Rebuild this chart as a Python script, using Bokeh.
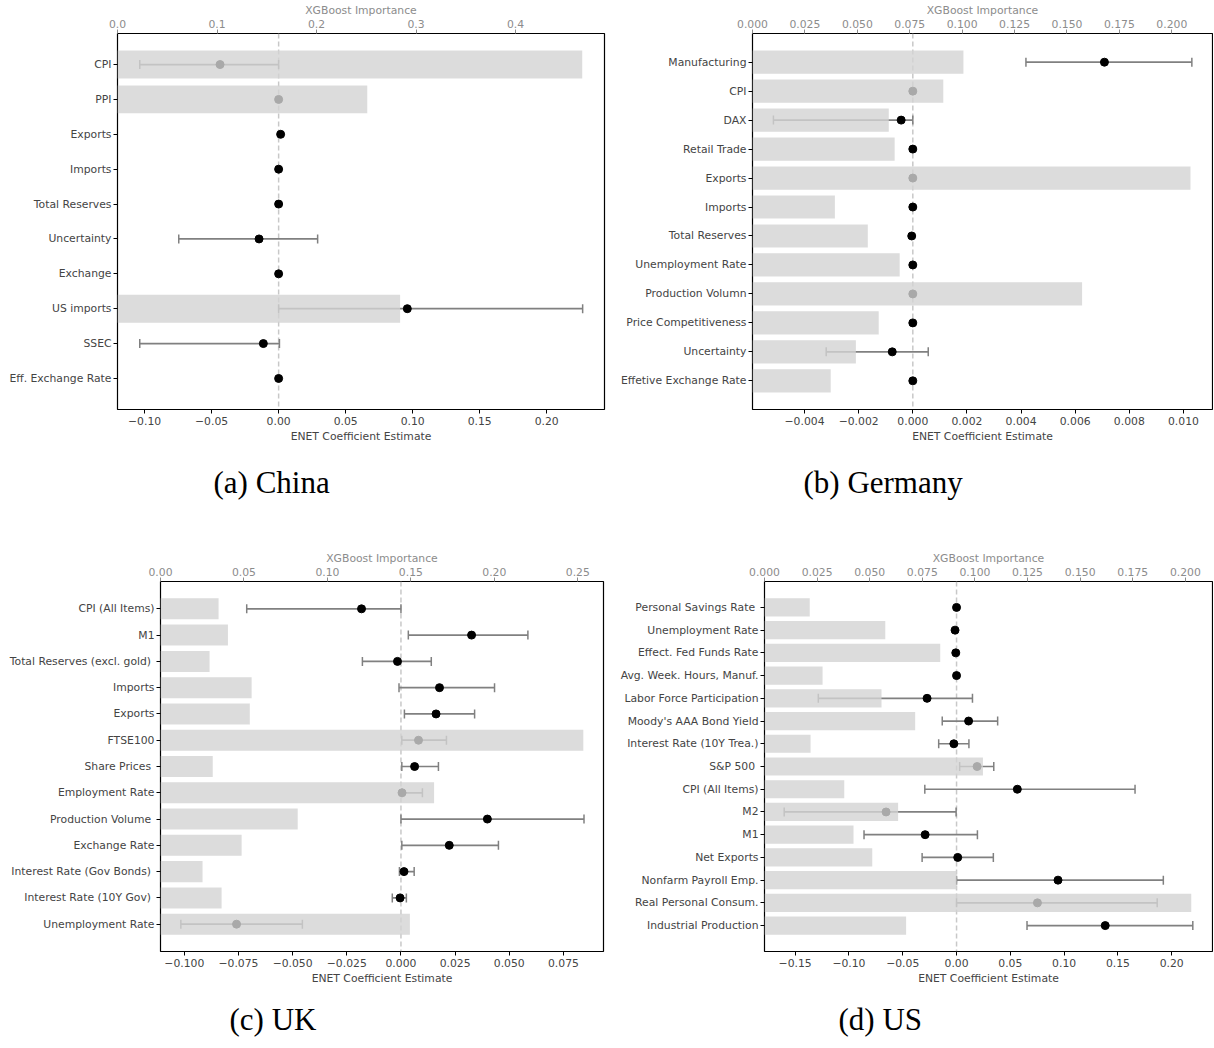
from math import pi
from bokeh.plotting import figure
from bokeh.models import (Range1d, LinearAxis, FixedTicker, CustomJSTickFormatter,
                          FactorRange, ColumnDataSource, Span, Title)
from bokeh.layouts import column, row
from bokeh.embed import file_html
from bokeh.resources import INLINE

# ---------------- data ----------------
china_cats = ["CPI", "PPI", "Exports", "Imports", "Total Reserves", "Uncertainty",
              "Exchange", "US imports", "SSEC", "Eff. Exchange Rate"]
china_xgb = [0.467, 0.251, 0.0, 0.0, 0.0, 0.0, 0.0, 0.284, 0.0, 0.0]
china_coef = [-0.0437, 0.0, 0.0015, 0.0, 0.0, -0.0146, 0.0, 0.096, -0.0114, 0.0]
china_lo = [-0.1036, None, None, None, None, -0.0745, None, 0.0, -0.1036, None]
china_hi = [0.0, None, None, None, None, 0.0291, None, 0.2268, 0.0006, None]
china_bticks = [-0.10, -0.05, 0.0, 0.05, 0.10, 0.15, 0.20]
china_tticks = [0.0, 0.1, 0.2, 0.3, 0.4]

germany_cats = ["Manufacturing", "CPI", "DAX", "Retail Trade", "Exports", "Imports",
                "Total Reserves", "Unemployment Rate", "Production Volumn",
                "Price Competitiveness", "Uncertainty", "Effetive Exchange Rate"]
germany_xgb = [0.1006, 0.0910, 0.0650, 0.0678, 0.2089, 0.0393, 0.0550, 0.0702,
               0.1572, 0.0602, 0.0493, 0.0373]
germany_coef = [0.00708, 0.0, -0.00043, 0.0, 0.0, 0.0, -0.00004, 0.0, 0.0, 0.0,
                -0.00076, 0.0]
germany_lo = [0.00418, None, -0.00515, None, None, None, None, None, None, None,
              -0.0032, None]
germany_hi = [0.01031, None, 0.0, None, None, None, None, None, None, None,
              0.00057, None]
germany_bticks = [-0.004, -0.002, 0.0, 0.002, 0.004, 0.006, 0.008, 0.010]
germany_tticks = [0.0, 0.025, 0.05, 0.075, 0.1, 0.125, 0.15, 0.175, 0.2]

uk_cats = ["CPI (All Items)", "M1", "Total Reserves (excl. gold) ", "Imports", "Exports",
           "FTSE100", "Share Prices ", "Employment Rate", "Production Volume ",
           "Exchange Rate", "Interest Rate (Gov Bonds) ", "Interest Rate (10Y Gov) ",
           "Unemployment Rate"]
uk_xgb = [0.0348, 0.0404, 0.0294, 0.0546, 0.0535, 0.2533, 0.0313, 0.1639, 0.0822,
          0.0486, 0.0252, 0.0366, 0.1494]
uk_coef = [-0.0182, 0.0326, -0.0016, 0.0178, 0.0162, 0.0081, 0.0063, 0.0005, 0.0399,
           0.0223, 0.0014, -0.0004, -0.0759]
uk_lo = [-0.0712, 0.0034, -0.0178, -0.0009, 0.0016, 0.0004, 0.0004, 0.0005, 0.0,
         0.0004, -0.0007, -0.0040, -0.1016]
uk_hi = [0.0, 0.0586, 0.0140, 0.0432, 0.0340, 0.0210, 0.0173, 0.0099, 0.0845,
         0.0450, 0.0061, 0.0025, -0.0455]
uk_bticks = [-0.100, -0.075, -0.050, -0.025, 0.0, 0.025, 0.050, 0.075]
uk_tticks = [0.0, 0.05, 0.10, 0.15, 0.20, 0.25]

us_cats = ["Personal Savings Rate ", "Unemployment Rate", "Effect. Fed Funds Rate",
           "Avg. Week. Hours, Manuf.", "Labor Force Participation",
           "Moody's AAA Bond Yield", "Interest Rate (10Y Trea.)", "S&P 500 ",
           "CPI (All Items)", "M2", "M1", "Net Exports", "Nonfarm Payroll Emp.",
           "Real Personal Consum.", "Industrial Production"]
us_xgb = [0.0215, 0.0574, 0.0835, 0.0276, 0.0556, 0.0716, 0.0219, 0.1038, 0.0379,
          0.0635, 0.0423, 0.0512, 0.0913, 0.2028, 0.0673]
us_coef = [0.0, -0.0014, -0.0007, 0.0, -0.0274, 0.0112, -0.0025, 0.0191, 0.0565,
           -0.0655, -0.0292, 0.0011, 0.0943, 0.0752, 0.1382]
us_lo = [None, None, None, None, -0.1285, -0.0133, -0.0166, 0.0029, -0.0295,
         -0.1602, -0.086, -0.032, 0.0, 0.0, 0.0655]
us_hi = [None, None, None, None, 0.0148, 0.0382, 0.0115, 0.0346, 0.1659,
         -0.0004, 0.0194, 0.0342, 0.1922, 0.1865, 0.2196]
us_bticks = [-0.15, -0.10, -0.05, 0.0, 0.05, 0.10, 0.15, 0.20]
us_tticks = [0.0, 0.025, 0.05, 0.075, 0.1, 0.125, 0.15, 0.175, 0.2]

FONT = "DejaVu Sans"
TSIZE = "10.8px"


def fmt(dec):
    return CustomJSTickFormatter(
        code="return (tick < -1e-12 ? '\u2212' : '') + Math.abs(tick).toFixed(%d);" % dec)


def panel(cats, xgb, coef, lo, hi, xr, tr, bticks, tticks, bdec, tdec,
          caption, cap_off, cap_standoff, width, height, mbl, mbr, mbt, mbb):
    n = len(cats)
    yr = FactorRange(factors=cats[::-1], range_padding=0.05 * n - 0.11,
                     range_padding_units="absolute")
    p = figure(width=width, height=height, x_range=Range1d(*xr), y_range=yr,
               output_backend="svg", toolbar_location=None,
               min_border_left=mbl, min_border_right=mbr,
               min_border_top=mbt, min_border_bottom=mbb,
               x_axis_location="below")
    p.extra_x_ranges = {"xgb": Range1d(*tr)}
    p.grid.visible = False
    p.outline_line_color = "black"
    p.outline_line_width = 1.2
    p.background_fill_color = "white"
    p.border_fill_color = "white"

    # bottom axis (ENET)
    xa = p.xaxis[0]
    xa.ticker = FixedTicker(ticks=bticks)
    xa.formatter = fmt(bdec)
    xa.axis_label = "ENET Coefficient Estimate"
    xa.axis_label_text_font = FONT
    xa.axis_label_text_font_size = TSIZE
    xa.axis_label_text_font_style = "normal"
    xa.axis_label_standoff = 2
    xa.major_label_text_font = FONT
    xa.major_label_text_font_size = TSIZE
    xa.major_label_standoff = 3
    xa.major_tick_in = 0
    xa.major_tick_out = 4
    xa.minor_tick_out = 0
    xa.minor_tick_in = 0
    xa.axis_line_color = None

    # top axis (XGBoost)
    ta = LinearAxis(x_range_name="xgb", ticker=FixedTicker(ticks=tticks),
                    formatter=fmt(tdec), axis_label="XGBoost Importance")
    ta.axis_label_text_font = FONT
    ta.axis_label_text_font_size = TSIZE
    ta.axis_label_text_font_style = "normal"
    ta.axis_label_text_color = "#8c8c8c"
    ta.axis_label_standoff = 0
    ta.major_label_text_font = FONT
    ta.major_label_text_font_size = TSIZE
    ta.major_label_text_color = "#8c8c8c"
    ta.major_label_standoff = 2
    ta.major_tick_line_color = "#8c8c8c"
    ta.major_tick_in = 0
    ta.major_tick_out = 4
    ta.minor_tick_out = 0
    ta.minor_tick_in = 0
    ta.axis_line_color = None
    p.add_layout(ta, "above")

    ya = p.yaxis[0]
    ya.major_label_text_font = FONT
    ya.major_label_text_font_size = TSIZE
    ya.major_label_standoff = 2
    ya.major_tick_in = 0
    ya.major_tick_out = 4
    ya.axis_line_color = None

    p.add_layout(Span(location=0, dimension="height", line_color="#c8c8c8",
                      line_width=1.5, line_dash="5 3", level="underlay"))

    # error bars
    ecats = [c for c, a in zip(cats, lo) if a is not None]
    elo = [a for a in lo if a is not None]
    ehi = [b for b in hi if b is not None]
    esrc = ColumnDataSource(dict(y=ecats, lo=elo, hi=ehi))
    p.segment(x0="lo", x1="hi", y0="y", y1="y", source=esrc,
              line_color="#808080", line_width=1.7)
    p.scatter(x="lo", y="y", source=esrc, marker="dash", angle=pi / 2, size=9,
              line_color="#808080", line_width=1.5)
    p.scatter(x="hi", y="y", source=esrc, marker="dash", angle=pi / 2, size=9,
              line_color="#808080", line_width=1.5)

    # coefficient points
    psrc = ColumnDataSource(dict(y=cats, x=coef))
    p.scatter(x="x", y="y", source=psrc, size=8, fill_color="black",
              line_color="black")

    # xgboost importance bars (drawn on top, semi-transparent)
    bsrc = ColumnDataSource(dict(y=cats, right=xgb))
    p.hbar(y="y", left=0, right="right", height=0.8, source=bsrc,
           x_range_name="xgb", fill_color="#d3d3d3", fill_alpha=0.8,
           line_color=None)

    p.add_layout(Title(text=caption, align="left", offset=cap_off,
                       text_font="Liberation Serif", text_font_size="31px",
                       text_font_style="normal", text_color="black",
                       standoff=cap_standoff), "below")
    return p


pa = panel(china_cats, china_xgb, china_coef, china_lo, china_hi,
           (-0.1202, 0.2431), (0.0, 0.4894), china_bticks, china_tticks, 2, 1,
           "(a) China", 96, 34, 610, 548, 117, 6, 25, 139)
pb = panel(germany_cats, germany_xgb, germany_coef, germany_lo, germany_hi,
           (-0.005923, 0.011073), (0.0, 0.2194), germany_bticks, germany_tticks, 3, 3,
           "(b) Germany", 51, 34, 603, 548, 142, 1, 25, 139)
pc = panel(uk_cats, uk_xgb, uk_coef, uk_lo, uk_hi,
           (-0.1110, 0.0935), (0.0, 0.2654), uk_bticks, uk_tticks, 3, 2,
           "(c) UK", 69, 24, 610, 500, 160, 7, 32, 93)
pd_ = panel(us_cats, us_xgb, us_coef, us_lo, us_hi,
            (-0.1785, 0.2379), (0.0, 0.2129), us_bticks, us_tticks, 2, 3,
            "(d) US", 74, 24, 603, 500, 154, 1, 32, 93)

layout = column(row(pa, pb), row(pc, pd_))
open("out.html", "w").write(file_html(layout, INLINE))
